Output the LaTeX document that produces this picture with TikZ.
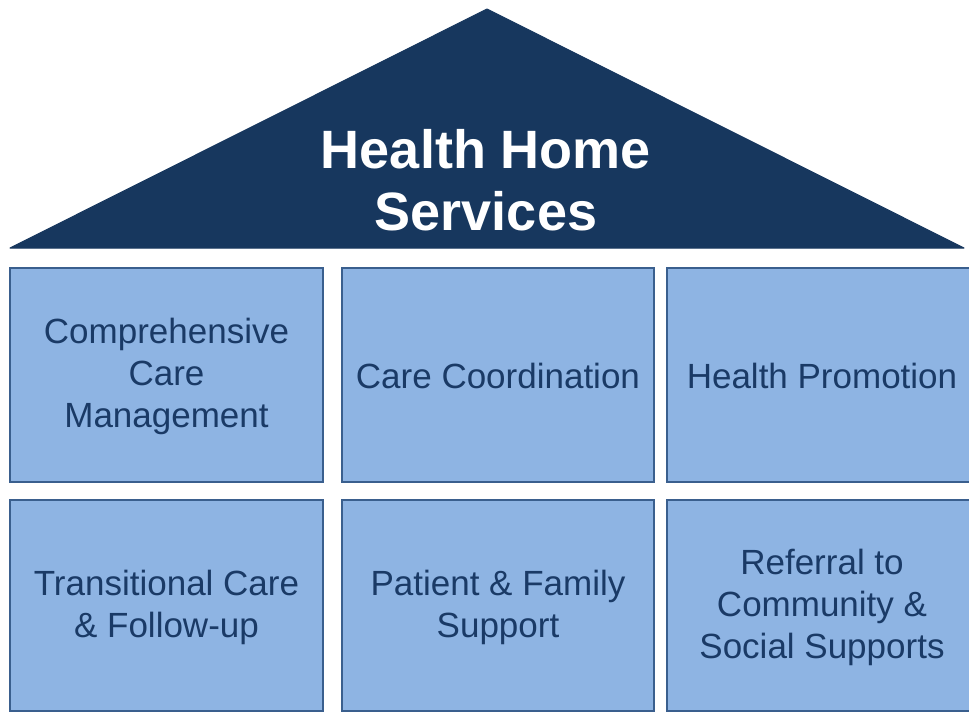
\documentclass[tikz,border=0pt]{standalone}
\usepackage{fontspec}
\setmainfont{Liberation Sans}
\definecolor{roofblue}{HTML}{17375E}
\definecolor{boxfill}{HTML}{8EB4E3}
\definecolor{boxline}{HTML}{3A5F8E}
\definecolor{boxtext}{HTML}{1A3A66}
\begin{document}
\begin{tikzpicture}[x=1pt,y=-1pt,
  cell/.style={draw=boxline,line width=2pt,fill=boxfill},
  celltext/.style={text=boxtext,font=\fontsize{35}{42}\selectfont,align=center,inner sep=0pt},
  roof/.style={fill=roofblue,draw=roofblue,line width=1pt,line join=round}]
\useasboundingbox (0,0) rectangle (969,712);
\fill[white] (0,0) rectangle (969,712);
\begin{scope}
\clip (0,0) rectangle (969,712);
% roof
\coordinate (apex) at (487,9);
\coordinate (rl) at (10,248);
\coordinate (rr) at (964,248);
\draw[roof] (apex) -- (rr) -- (rl) -- cycle;
\node[text=white,font=\fontsize{54}{62}\selectfont\bfseries,align=center,inner sep=0pt] (title) at (486,180) {Health Home\\Services};
% boxes
\draw[cell] (10,268) rectangle (323,482);
\draw[cell] (342,268) rectangle (654,482);
\draw[cell] (667,268) rectangle (978,482);
\draw[cell] (10,500) rectangle (323,711);
\draw[cell] (342,500) rectangle (654,711);
\draw[cell] (667,500) rectangle (978,711);
\node[celltext] (c1) at (166.5,376) {Comprehensive\\Care\\Management};
\node[celltext] (c2) at (498,376) {Care Coordination};
\node[celltext] (c3) at (822,376) {Health Promotion};
\node[celltext] (c4) at (166.5,607) {Transitional Care\\\& Follow-up};
\node[celltext] (c5) at (498,607) {Patient \& Family\\Support};
\node[celltext] (c6) at (822,607) {Referral to\\Community \&\\Social Supports};
\end{scope}
\end{tikzpicture}
\end{document}
